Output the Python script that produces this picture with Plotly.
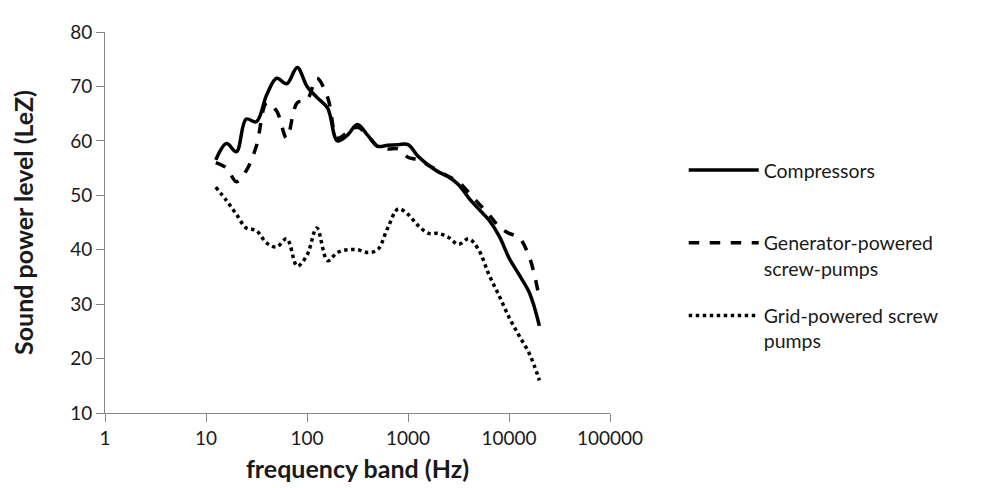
import plotly.graph_objects as go

# third-octave band centre frequencies (Hz)
freq = [12.5, 16, 20, 25, 31.5, 40, 50, 63, 80, 100, 125, 160, 200, 250, 315, 400,
        500, 630, 800, 1000, 1250, 1600, 2000, 2500, 3150, 4000, 5000, 6300, 8000,
        10000, 12500, 16000, 20000]

compressors = [56.5, 59.5, 58, 64, 63.5, 68.5, 71.5, 70.5, 73.5, 70, 68, 66, 60, 61,
               63, 61, 59, 59.2, 59.3, 59.3, 57.2, 55.5, 54.3, 53.4, 52, 49.5, 47.5,
               45.5, 42.5, 38.5, 35.5, 32, 26]

generator = [56, 55, 52.5, 54.5, 59, 67, 65.5, 60.5, 67, 67.5, 71.5, 68, 60.5, 61.5,
             62.5, 61, 59, 58.5, 58.5, 57, 56.5, 55.5, 54.5, 53.5, 52.5, 50.5, 48.5,
             46.5, 44.2, 43, 42.3, 38.5, 31]

grid = [51.5, 49, 46.5, 44, 43.5, 41.2, 40.5, 42, 37, 39, 44, 38, 39.5, 40, 40, 39.5,
        40, 44, 47.5, 46.5, 44.5, 43, 43, 42.3, 41, 42, 40, 35.5, 31.5, 27.6, 24.3,
        20.8, 16]

x_ticks = [1, 10, 100, 1000, 10000, 100000]
x_tick_text = ['1', '10', '100', '1000', '10000', '100000']

FONT = 'Lato'
TXT = '#1a1a1a'

fig = go.Figure()
series = [
    ('Compressors<br>&nbsp;', compressors, 'solid'),
    ('Generator-powered<br>screw-pumps', generator, 'dash'),
    ('Grid-powered screw<br>pumps', grid, 'dot'),
]
for i, (name, vals, dash) in enumerate(series):
    fig.add_trace(go.Scatter(
        x=freq, y=vals, name=name, mode='lines', legendgroup=str(i),
        line=dict(color='black', width=3.5, dash=dash, shape='spline', smoothing=1),
    ))

axis_common = dict(showgrid=False, zeroline=False, showline=True, linecolor='#868686',
                   linewidth=1, ticks='outside', ticklen=8, tickcolor='#868686',
                   tickfont=dict(family=FONT, size=19, color=TXT))

fig.update_layout(
    width=981, height=488,
    margin=dict(l=97, r=379, t=18, b=83),
    paper_bgcolor='white', plot_bgcolor='white',
    font=dict(family=FONT, size=19, color=TXT),
    xaxis=dict(type='log', range=[0, 5], tickvals=x_ticks, ticktext=x_tick_text,
               title=dict(text='<b>frequency band (Hz)</b>', font=dict(family=FONT, size=25),
                          standoff=12),
               **axis_common),
    yaxis=dict(range=[10, 80], dtick=10, tick0=10,
               title=dict(text='<b>Sound power level (LeZ)</b>', font=dict(family=FONT, size=25),
                          standoff=32),
               **axis_common),
    legend=dict(x=1.146, y=0.688, xanchor='left', yanchor='top', valign='top',
                itemwidth=70, tracegroupgap=19, bgcolor='rgba(0,0,0,0)',
                font=dict(family=FONT, size=19.5, color=TXT)),
    showlegend=True,
)

fig.write_html('out.html')
